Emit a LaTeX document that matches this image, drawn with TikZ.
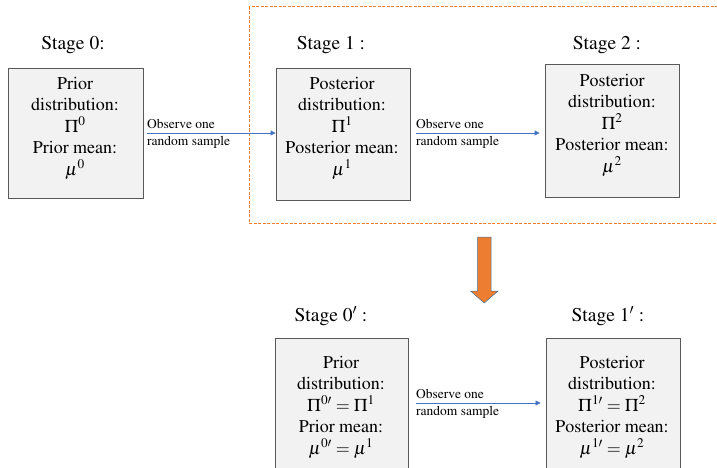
\documentclass[tikz,border=0pt]{standalone}
\usepackage[T1]{fontenc}
\usepackage{mathptmx}
\usetikzlibrary{arrows.meta}
\definecolor{boxfill}{HTML}{F2F2F2}
\definecolor{boxline}{HTML}{595959}
\definecolor{arrblue}{HTML}{4472C4}
\definecolor{orng}{HTML}{ED7D31}
\definecolor{orngline}{HTML}{41719C}
\tikzset{
  stagebox/.style={draw=boxline, fill=boxfill, line width=0.9pt, inner sep=0pt, rectangle},
  boxtext/.style={align=center, font=\fontsize{18}{21.5}\selectfont, inner sep=0pt},
  stagelabel/.style={font=\fontsize{19.5}{22}\selectfont, inner sep=0pt},
  obslabel/.style={align=left, font=\fontsize{13.5}{17}\selectfont, inner sep=0pt, anchor=west},
  obsarrow/.style={draw=arrblue, line width=0.7pt, -{Triangle[length=5pt,width=5pt]}},
}
\begin{document}
\begin{tikzpicture}[x=1pt,y=-1pt]
\useasboundingbox (0,0) rectangle (717,468);
% dashed frame
\draw[draw=orng, dash pattern=on 3pt off 1.5pt, line width=1pt] (249,7) rectangle (722,223);
% boxes
\node[stagebox, minimum width=135pt, minimum height=130pt] (b0) at (75.5,133) {};
\node[stagebox, minimum width=134pt, minimum height=132pt] (b1) at (343,134) {};
\node[stagebox, minimum width=134pt, minimum height=133pt] (b2) at (612,130.5) {};
\node[stagebox, minimum width=133pt, minimum height=160pt] (b3) at (341.5,418) {};
\node[stagebox, minimum width=134pt, minimum height=160pt] (b4) at (613,418) {};
% stage labels
\node[stagelabel] (s0) at (73,45) {Stage 0:};
\node[stagelabel] (s1) at (331,45) {Stage 1 :};
\node[stagelabel] (s2) at (607,45) {Stage 2 :};
\node[stagelabel] (s3) at (331,316) {Stage $0'$ :};
\node[stagelabel] (s4) at (608,316) {Stage $1'$ :};
% box texts
\node[boxtext] (t0) at (75,128) {Prior\\distribution:\\$\Pi^0$\\Prior mean:\\$\mu^0$};
\node[boxtext] (t1) at (342,128) {Posterior\\distribution:\\$\Pi^1$\\Posterior mean:\\$\mu^1$};
\node[boxtext] (t2) at (612,125) {Posterior\\distribution:\\$\Pi^2$\\Posterior mean:\\$\mu^2$};
\node[boxtext] (t3) at (341,407) {Prior\\distribution:\\$\Pi^{0\prime}=\Pi^1$\\Prior mean:\\$\mu^{0\prime}=\mu^1$};
\node[boxtext] (t4) at (612,407) {Posterior\\distribution:\\$\Pi^{1\prime}=\Pi^2$\\Posterior mean:\\$\mu^{1\prime}=\mu^2$};
% arrows
\draw[obsarrow] (b0.east |- 0,133) ++(4,0) coordinate (a0s) -- (a0s -| b1.west) coordinate (a0e);
\draw[obsarrow] (b1.east |- 0,133) ++(6,0) coordinate (a1s) -- ([xshift=-5pt]a1s -| b2.west) coordinate (a1e);
\draw[obsarrow] (b3.east |- 0,403) ++(8,0) coordinate (a2s) -- ([xshift=-5pt]a2s -| b4.west) coordinate (a2e);
\node[obslabel] (l0) at (147,133.5) {Observe one\\random sample};
\node[obslabel] (l1) at (416,133.5) {Observe one\\random sample};
\node[obslabel] (l2) at (416,403.5) {Observe one\\random sample};
% big orange arrow
\draw[fill=orng, draw=orngline, line width=0.5pt]
  (477.5,237) -- (491,237) -- (491,291) -- (498,291) -- (484.25,303) -- (470.5,291) -- (477.5,291) -- cycle;
\end{tikzpicture}
\end{document}
